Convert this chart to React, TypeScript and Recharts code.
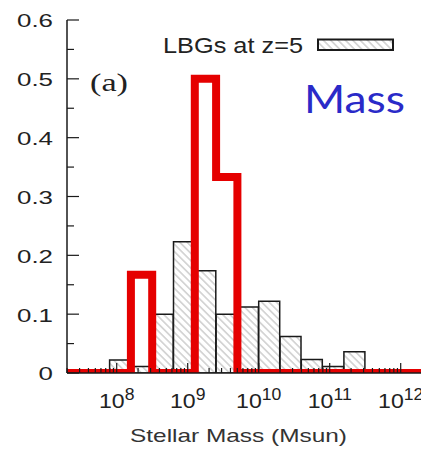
import React from "react";
import { ComposedChart, Bar, Line, XAxis, YAxis } from "recharts";

// ---- data ----
const binEdges = [7.3, 7.6, 7.9, 8.2, 8.5, 8.8, 9.1, 9.4, 9.7, 10.0, 10.3, 10.6, 10.9, 11.2, 11.5, 11.8, 12.1];
const lbgFraction = [0, 0, 0.022, 0.011, 0.1, 0.223, 0.174, 0.1, 0.112, 0.122, 0.062, 0.023, 0.011, 0.036, 0, 0, 0];
const modelFraction = [0, 0, 0, 0.167, 0, 0, 0.5, 0.333, 0, 0, 0, 0, 0, 0, 0, 0, 0];
const xDomain = [7.3, 12.3];
const xMajorTicks = [8, 9, 10, 11, 12];
const xMinorMultipliers = [2, 3, 4, 5, 6, 7, 8, 9];
const yTicks = [0, 0.05, 0.1, 0.15, 0.2, 0.25, 0.3, 0.35, 0.4, 0.45, 0.5, 0.55, 0.6];
const legendLabel = "LBGs at z=5";
const panelLabel = "(a)";
const titleLabel = "Mass";
const xTitle = "Stellar Mass (Msun)";

const binWidth = binEdges[1] - binEdges[0];
const lbgData = binEdges.map((e, i) => ({ x: e + binWidth / 2, y: lbgFraction[i] }));
const modelData = [
  ...binEdges.map((e, i) => ({ x: e, y: modelFraction[i] })),
  { x: xDomain[1], y: 0 },
];

const xTicks: number[] = [];
for (let n = 7; n <= 12; n++) {
  if (n >= xDomain[0] && n <= xDomain[1]) xTicks.push(n);
  xMinorMultipliers.forEach((k) => {
    const v = n + Math.log10(k);
    if (v >= xDomain[0] && v <= xDomain[1]) xTicks.push(v);
  });
}
xTicks.sort((a, b) => a - b);

const SANS = "'Liberation Sans', Arial, Helvetica, sans-serif";
const INK = "#1a1a1a";
const RED = "#e50000";

const isMajorX = (v: number) => xMajorTicks.some((m) => Math.abs(m - v) < 1e-6);
const isMajorY = (v: number) => Math.abs(v * 10 - Math.round(v * 10)) < 1e-6;

const BottomTick = (props: any) => {
  const { x, y, payload } = props;
  const v = payload.value;
  const major = isMajorX(v);
  return (
    <g>
      <line x1={x} x2={x} y1={y} y2={y - (major ? 10 : 5)} stroke={INK} strokeWidth={1.2} />
      {major && (
        <text
          x={x}
          y={y + 35}
          textAnchor="middle"
          fontFamily={SANS}
          fontSize={21}
          fill="#222"
          transform={`translate(${x} 0) scale(1.1 1) translate(${-x} 0)`}
        >
          10
          <tspan dy={-8} fontSize={16}>
            {Math.round(v)}
          </tspan>
        </text>
      )}
    </g>
  );
};

const TopTick = (props: any) => {
  const { x, y, payload } = props;
  const major = isMajorX(payload.value);
  return <line x1={x} x2={x} y1={y} y2={y + (major ? 10 : 5)} stroke={INK} strokeWidth={1.2} />;
};

const LeftTick = (props: any) => {
  const { x, y, payload } = props;
  const v = payload.value;
  const major = isMajorY(v);
  const lx = x - 14;
  return (
    <g>
      <line x1={x} x2={x + (major ? 12 : 7)} y1={y} y2={y} stroke={INK} strokeWidth={1.2} />
      {major && (
        <text
          x={lx}
          y={y + 7.5}
          textAnchor="end"
          fontFamily={SANS}
          fontSize={18.5}
          fill="#222"
          transform={`translate(${lx} 0) scale(1.4 1) translate(${-lx} 0)`}
        >
          {v === 0 ? "0" : v.toFixed(1)}
        </text>
      )}
    </g>
  );
};

const RightTick = (props: any) => {
  const { x, y, payload } = props;
  const major = isMajorY(payload.value);
  return <line x1={x} x2={x - (major ? 12 : 7)} y1={y} y2={y} stroke={INK} strokeWidth={1.2} />;
};

export default function App() {
  return (
    <div
      style={{
        position: "fixed",
        left: 0,
        top: 0,
        width: 421,
        height: 450,
        overflow: "hidden",
        background: "#fff",
      }}
    >
      <ComposedChart
        width={440}
        height={450}
        data={lbgData}
        margin={{ top: 20, right: 18, bottom: 0, left: 7 }}
        barCategoryGap={0}
        barGap={0}
      >
        <defs>
          <pattern id="hatch" patternUnits="userSpaceOnUse" width="5.2" height="5.2" patternTransform="rotate(-45)">
            <line x1="2.6" y1="0" x2="2.6" y2="5.2" stroke="#ababab" strokeWidth="0.9" />
          </pattern>
        </defs>
        <XAxis
          xAxisId="bars"
          dataKey="x"
          type="number"
          domain={xDomain}
          allowDataOverflow
          ticks={xTicks}
          interval={0}
          tick={<BottomTick />}
          tickLine={false}
          tickSize={0}
          tickMargin={0}
          height={77}
          axisLine={{ stroke: INK, strokeWidth: 1.5 }}
        />
        <XAxis
          xAxisId="top"
          orientation="top"
          dataKey="x"
          type="number"
          domain={xDomain}
          allowDataOverflow
          ticks={xTicks}
          interval={0}
          tick={<TopTick />}
          tickLine={false}
          tickSize={0}
          tickMargin={0}
          height={0}
          axisLine={{ stroke: INK, strokeWidth: 1.5 }}
        />
        <XAxis xAxisId="line" dataKey="x" type="number" domain={xDomain} allowDataOverflow hide />
        <YAxis
          yAxisId="left"
          type="number"
          domain={[0, 0.6]}
          allowDataOverflow
          ticks={yTicks}
          interval={0}
          tick={<LeftTick />}
          tickLine={false}
          tickSize={0}
          tickMargin={0}
          width={60}
          axisLine={{ stroke: INK, strokeWidth: 1.5 }}
        />
        <YAxis
          yAxisId="right"
          orientation="right"
          type="number"
          domain={[0, 0.6]}
          allowDataOverflow
          ticks={yTicks}
          interval={0}
          tick={<RightTick />}
          tickLine={false}
          tickSize={0}
          tickMargin={0}
          width={0}
          axisLine={{ stroke: INK, strokeWidth: 1.5 }}
        />
        <Bar
          xAxisId="bars"
          yAxisId="left"
          dataKey="y"
          fill="url(#hatch)"
          stroke={INK}
          strokeWidth={1.5}
          isAnimationActive={false}
        />
        <Line
          xAxisId="line"
          yAxisId="left"
          data={modelData}
          dataKey="y"
          type="stepAfter"
          stroke={RED}
          strokeWidth={8}
          strokeLinejoin="miter"
          strokeLinecap="butt"
          dot={false}
          activeDot={false}
          isAnimationActive={false}
        />
        <text x={163} y={53} fontFamily={SANS} fontSize={22} fill="#222" textLength={140} lengthAdjust="spacingAndGlyphs">
          {legendLabel}
        </text>
        <rect x={318} y={39.5} width={75} height={10.5} fill="url(#hatch)" stroke={INK} strokeWidth={2} />
        <text
          x={90}
          y={91}
          fontFamily="'Liberation Serif', 'Times New Roman', serif"
          fontSize={25}
          fill="#222"
          textLength={38}
          lengthAdjust="spacingAndGlyphs"
        >
          {panelLabel}
        </text>
        <text x={304} y={113} fontFamily="Lato, 'Open Sans', sans-serif" fontSize={39} fill="#2a2ac8" textLength={101} lengthAdjust="spacingAndGlyphs">
          {titleLabel}
        </text>
        <text x={130} y={441.5} fontFamily={SANS} fontSize={19} fill="#333" textLength={217} lengthAdjust="spacingAndGlyphs">
          {xTitle}
        </text>
      </ComposedChart>
    </div>
  );
}
